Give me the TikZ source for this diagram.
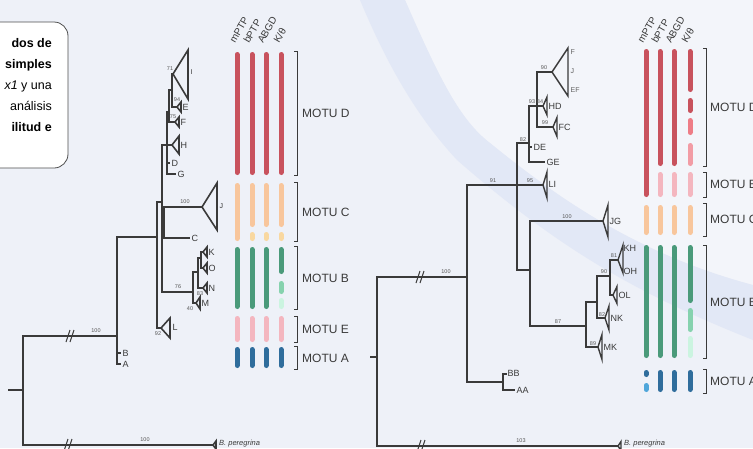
\documentclass[tikz,border=0pt]{standalone}
\usepackage{fontspec}
\setmainfont{Liberation Sans}
\definecolor{bgc}{HTML}{EEF1F8}
\definecolor{bandc}{HTML}{E2E8F6}
\definecolor{lightc}{HTML}{F3F5FA}
\definecolor{treec}{HTML}{3A3A3A}
\definecolor{redc}{HTML}{C8525D}
\definecolor{rdb}{HTML}{EE7C86}
\definecolor{rdc}{HTML}{F29CA5}
\definecolor{orc}{HTML}{F8C69C}
\definecolor{yelc}{HTML}{F9D8A0}
\definecolor{grc}{HTML}{4A9A7A}
\definecolor{grb}{HTML}{86D2AE}
\definecolor{grd}{HTML}{CBF4E0}
\definecolor{pkc}{HTML}{F4B6BF}
\definecolor{blc}{HTML}{2F6D9C}
\definecolor{blb}{HTML}{4FA6DA}
\newcommand\tri[4]{\draw[br,line join=miter] (#1,#2) -- ({#1+#3},{#2-#4}) -- ({#1+#3},{#2+#4}) -- cycle;}
\newcommand\brkmark[2]{\draw[brk] ({#1-4},{#2+6}) -- ({#1},{#2-6}); \draw[brk] ({#1},{#2+6}) -- ({#1+4},{#2-6});}
\newcommand\seg[4]{\draw[bar,#1] (#2,{#3+2.5}) -- (#2,{#4-2.5});}
\newcommand\bkt[3]{\draw[bktl] ({#1-3},#2) -- (#1,#2) -- (#1,#3) -- ({#1-3},#3);}
\begin{document}
\begin{tikzpicture}[x=1pt,y=-1pt,
  br/.style={draw=treec,line width=1.4pt},
  brk/.style={draw=treec,line width=1pt},
  tl/.style={anchor=west,inner sep=0.5pt,text=treec,font=\fontsize{9}{9}\selectfont},
  tls/.style={anchor=west,inner sep=0.5pt,text=treec,font=\fontsize{7}{7}\selectfont},
  bs/.style={inner sep=0pt,text=treec!85,font=\fontsize{5.5}{5.5}\selectfont},
  bar/.style={line width=5pt,line cap=round},
  bktl/.style={draw=treec,line width=0.9pt},
  motu/.style={anchor=west,inner sep=0pt,text=treec,font=\fontsize{12}{12}\selectfont},
  hdr/.style={anchor=base west,rotate=60,inner sep=0pt,text=treec,font=\fontsize{10}{10}\selectfont},
  boxt/.style={anchor=base east,inner sep=0pt,text=black,font=\fontsize{12.5}{12.5}\selectfont},
  sp/.style={anchor=west,inner sep=0pt,text=treec,font=\fontsize{7.5}{7.5}\selectfont\itshape}]
\clip (0,0) rectangle (753,448);
% background
\fill[bgc] (0,0) rectangle (753,448);
\fill[lightc] (405,0) .. controls (440,80) and (460,120) .. (490,143) .. controls (560,200) and (640,255) .. (753,285) -- (753,0) -- cycle;
\fill[bandc] (360,0) -- (405,0) .. controls (440,80) and (460,120) .. (490,143) .. controls (560,200) and (640,255) .. (753,285) -- (753,340) .. controls (640,295) and (560,250) .. (457,160) .. controls (415,115) and (385,60) .. (360,0) -- cycle;
% text box
\draw[fill=white,draw=treec!90,line width=0.8pt,rounded corners=14pt] (-30,22) rectangle (68,168);
\node[boxt] (t1) at (52,47) {\bfseries dos de};
\node[boxt] (t2) at (52,68) {\bfseries simples};
\node[boxt] (t3) at (52,89) {\textit{x1} y una};
\node[boxt] (t4) at (52,110) {análisis};
\node[boxt] (t5) at (52,131) {\bfseries ilitud e};

% ================= LEFT TREE =================
\begin{scope}[br/.append style={line width=1.6pt}]
\coordinate (lstub) at (8,390);
\coordinate (lroot) at (23,390);
\coordinate (lU) at (117,336);
\coordinate (lBp) at (213,445);
\coordinate (lP) at (157,237);
\coordinate (lB) at (121,353);
\coordinate (lA) at (121,364);
\coordinate (lQ) at (162,202);
\coordinate (lL) at (161,328);
\coordinate (lR) at (167,145);
\coordinate (lJC) at (164,222);
\coordinate (lMB) at (193,292);
\coordinate (lS) at (169,112);
\coordinate (lH) at (172,145);
\coordinate (lD) at (170,163);
\coordinate (lG) at (176,174);
\coordinate (lT) at (172,90);
\coordinate (lF) at (175,122);
\coordinate (lI) at (173,74);
\coordinate (lE) at (177,107);
\coordinate (lJ) at (202,207);
\coordinate (lC) at (190,238);
\coordinate (lMO) at (198,272);
\coordinate (lM) at (196,303);
\coordinate (lKO) at (201,258);
\coordinate (lN) at (203,288);
\coordinate (lK) at (203,252);
\coordinate (lO) at (203,268);
\draw[br] (lstub) -- (lroot);
\draw[br] (lroot) |- (lU);
\draw[br] (lroot) |- (lBp);
\draw[br] (lU) |- (lP);
\draw[br] (lU) |- (lB);
\draw[br] (lU) |- (lA);
\draw[br] (lP) |- (lQ);
\draw[br] (lP) |- (lL);
\draw[br] (lQ) |- (lR);
\draw[br] (lQ) |- (lJC);
\draw[br] (lQ) |- (lMB);
\draw[br] (lR) |- (lS);
\draw[br] (lR) |- (lH);
\draw[br] (lR) |- (lD);
\draw[br] (lR) |- (lG);
\draw[br] (lS) |- (lT);
\draw[br] (lS) |- (lF);
\draw[br] (lT) |- (lI);
\draw[br] (lT) |- (lE);
\draw[br] (lJC) |- (lJ);
\draw[br] (lJC) |- (lC);
\draw[br] (lMB) |- (lMO);
\draw[br] (lMB) |- (lM);
\draw[br] (lMO) |- (lKO);
\draw[br] (lMO) |- (lN);
\draw[br] (lKO) |- (lK);
\draw[br] (lKO) |- (lO);
\brkmark{70}{336}
\brkmark{68}{445}
% tip triangles
\tri{213}{445}{3}{4}
\tri{161}{328}{9}{10}
\draw[br,line join=miter] (173,74) -- (188,50) -- (188,99) -- cycle;
\tri{177}{107}{4}{5}
\tri{175}{122}{4}{5}
\tri{172}{145}{7}{9}
\draw[br,line join=miter] (202,207) -- (217,183) -- (217,230) -- cycle;
\tri{203}{252}{4}{5}
\tri{203}{268}{4}{5}
\tri{203}{288}{4}{5}
\tri{196}{303}{4}{6}
\end{scope}
% tip labels
\node[tl] (ntB) at (122,353) {B};
\node[tl] (ntA) at (122,364) {A};
\node[tl] (ntL) at (172,327) {L};
\node[tls] (ntJ) at (219,206) {J};
\node[tl] (ntC) at (191,238) {C};
\node[tl] (ntK) at (208,252) {K};
\node[tl] (ntO) at (208,268) {O};
\node[tl] (ntN) at (208,288) {N};
\node[tl] (ntM) at (201,303) {M};
\node[tl] (ntH) at (180,145) {H};
\node[tl] (ntD) at (171,163) {D};
\node[tl] (ntG) at (177,174) {G};
\node[tl] (ntF) at (180,122) {F};
\node[tls] (ntI) at (190,72) {I};
\node[tl] (ntE) at (182,107) {E};
\node[sp] (ntBp) at (219,444) {B. peregrina};
% bootstrap
\node[bs] (b1) at (96,331) {100};
\node[bs] (b2) at (145,440) {100};
\node[bs] (b3) at (158,334) {92};
\node[bs] (b4) at (185,202) {100};
\node[bs] (b5) at (178,287) {76};
\node[bs] (b6) at (200,294) {83};
\node[bs] (b7) at (190,309) {40};
\node[bs] (b8) at (173,117) {75};
\node[bs] (b9) at (170,69) {71};
\node[bs] (b10) at (177,100) {94};
% headers
\node[hdr] (h1) at (235,44) {mPTP};
\node[hdr] (h2) at (249,44) {bPTP};
\node[hdr] (h3) at (263,44) {ABGD};
\node[hdr] (h4) at (279,44) {K/θ};
% bars left
\foreach \x in {237,252,266,281} {\seg{redc}{\x}{52}{175}}
\seg{orc}{237}{183}{241}
\foreach \x in {252,266,281} {\seg{orc}{\x}{183}{227}\seg{yelc}{\x}{232}{241}}
\foreach \x in {237,252,266} {\seg{grc}{\x}{247}{309}}
\seg{grc}{281}{247}{274}
\seg{grb}{281}{281}{294}
\seg{grd}{281}{298}{309}
\foreach \x in {237,252,266,281} {\seg{pkc}{\x}{316}{342}\seg{blc}{\x}{347}{368}}
% brackets left
\bkt{297}{51}{175}
\bkt{297}{182}{241}
\bkt{297}{246}{309}
\bkt{297}{316}{342}
\bkt{297}{346}{369}
\node[motu] (mlD) at (302,113) {MOTU D};
\node[motu] (mlC) at (302,212) {MOTU C};
\node[motu] (mlB) at (302,278) {MOTU B};
\node[motu] (mlE) at (302,329) {MOTU E};
\node[motu] (mlA) at (302,358) {MOTU A};

% ================= RIGHT TREE =================
\coordinate (rstub) at (370,357);
\coordinate (rroot) at (377,357);
\coordinate (rU) at (467,277);
\coordinate (rBp) at (618,446);
\coordinate (rX) at (517,185);
\coordinate (rAB) at (503,382);
\coordinate (rDG) at (529,143);
\coordinate (rLI) at (543,185);
\coordinate (rJB) at (530,270);
\coordinate (rH93) at (537,106);
\coordinate (rDE) at (532,147);
\coordinate (rGE) at (545,162);
\coordinate (rFJ) at (552,72);
\coordinate (rHD) at (543,106);
\coordinate (rFC) at (553,127);
\coordinate (rJG) at (603,221);
\coordinate (rB) at (586,326);
\coordinate (rNO) at (597,302);
\coordinate (rMK) at (598,347);
\coordinate (rKO) at (610,276);
\coordinate (rNK) at (605,318);
\coordinate (rKH) at (618,260);
\coordinate (rOL) at (613,295);
\coordinate (rBB) at (507,374);
\coordinate (rAA) at (515,390);
\draw[br] (rstub) -- (rroot);
\draw[br] (rroot) |- (rU);
\draw[br] (rroot) |- (rBp);
\draw[br] (rU) |- (rX);
\draw[br] (rU) |- (rAB);
\draw[br] (rX) |- (rDG);
\draw[br] (rX) |- (rLI);
\draw[br] (rX) |- (rJB);
\draw[br] (rDG) |- (rH93);
\draw[br] (rDG) |- (rDE);
\draw[br] (rDG) |- (rGE);
\draw[br] (rH93) |- (rFJ);
\draw[br] (rH93) |- (rHD);
\draw[br] (rH93) |- (rFC);
\draw[br] (rJB) |- (rJG);
\draw[br] (rJB) |- (rB);
\draw[br] (rB) |- (rNO);
\draw[br] (rB) |- (rMK);
\draw[br] (rNO) |- (rKO);
\draw[br] (rNO) |- (rNK);
\draw[br] (rKO) |- (rKH);
\draw[br] (rKO) |- (rOL);
\draw[br] (rAB) |- (rBB);
\draw[br] (rAB) |- (rAA);
\brkmark{420}{277}
\brkmark{421}{446}
% tip triangles
\tri{618}{446}{3}{4.5}
\draw[br,line join=miter] (552,72) -- (568,48) -- (568,96) -- cycle;
\tri{543}{106}{4}{9}
\tri{553}{127}{4}{9.5}
\tri{543}{185}{4}{13}
\tri{603}{221}{5}{16}
\draw[br,line join=miter] (618,260) -- (623,245) -- (623,273) -- cycle;
\tri{613}{295}{4}{8.5}
\tri{605}{318}{4}{12}
\tri{598}{347}{4}{12.5}
% tip labels
\node[tls,text=treec!80] (rtF) at (570,52) {F};
\node[tls,text=treec!80] (rtJ) at (570,71) {J};
\node[tls,text=treec!80] (rtEF) at (570,90) {EF};
\node[tl] (rtHD) at (548,106) {HD};
\node[tl] (rtFC) at (558,127) {FC};
\node[tl] (rtDE) at (533,147) {DE};
\node[tl] (rtGE) at (546,162) {GE};
\node[tl] (rtLI) at (548,184) {LI};
\node[tl] (rtJG) at (609,221) {JG};
\node[tl] (rtKH) at (623,248) {KH};
\node[tl] (rtOH) at (623,271) {OH};
\node[tl] (rtOL) at (618,295) {OL};
\node[tl] (rtNK) at (610,318) {NK};
\node[tl] (rtMK) at (603,347) {MK};
\node[tl] (rtBB) at (507,373) {BB};
\node[tl] (rtAA) at (516,390) {AA};
\node[sp] (rtBp) at (624,444) {B. peregrina};
% bootstrap
\node[bs] (c1) at (446,272) {100};
\node[bs] (c2) at (521,441) {103};
\node[bs] (c3) at (493,181) {91};
\node[bs] (c4) at (530,181) {95};
\node[bs] (c5) at (523,140) {82};
\node[bs] (c6) at (532,102) {93};
\node[bs] (c7) at (544,68) {90};
\node[bs] (c8) at (540,102) {84};
\node[bs] (c9) at (545,123) {99};
\node[bs] (c10) at (567,217) {100};
\node[bs] (c11) at (558,322) {87};
\node[bs] (c12) at (593,344) {89};
\node[bs] (c13) at (602,315) {82};
\node[bs] (c14) at (604,272) {90};
\node[bs] (c15) at (614,256) {81};
% headers right
\node[hdr] (g1) at (643,44) {mPTP};
\node[hdr] (g2) at (657,44) {bPTP};
\node[hdr] (g3) at (671,44) {ABGD};
\node[hdr] (g4) at (687,44) {K/θ};
% bars right
\seg{redc}{646}{49}{197}
\foreach \x in {660,674} {\seg{redc}{\x}{49}{166}\seg{pkc}{\x}{172}{197}}
\seg{redc}{690}{49}{92}
\seg{redc}{690}{98}{113}
\seg{rdb}{690}{118}{135}
\seg{rdc}{690}{143}{166}
\seg{pkc}{690}{172}{197}
\foreach \x in {646,660,674,690} {\seg{orc}{\x}{205}{235}}
\foreach \x in {646,660,674} {\seg{grc}{\x}{245}{358}}
\seg{grc}{690}{245}{303}
\seg{grb}{690}{308}{332}
\seg{grd}{690}{336}{358}
\seg{blc}{646}{370}{377}
\seg{blb}{646}{383}{392}
\foreach \x in {660,674,690} {\seg{blc}{\x}{370}{392}}
% brackets right
\bkt{706}{48}{166}
\bkt{706}{172}{197}
\bkt{706}{203}{236}
\bkt{706}{245}{358}
\bkt{706}{369}{393}
\node[motu] (mrD) at (710,107) {MOTU D};
\node[motu] (mrE) at (710,184) {MOTU E};
\node[motu] (mrC) at (710,219) {MOTU C};
\node[motu] (mrB) at (710,302) {MOTU B};
\node[motu] (mrA) at (710,381) {MOTU A};
\end{tikzpicture}
\end{document}
